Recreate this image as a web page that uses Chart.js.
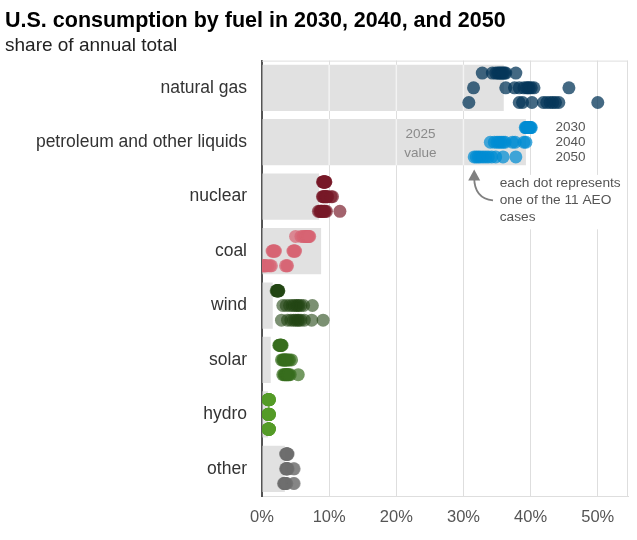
<!DOCTYPE html>
<html>
<head>
<meta charset="utf-8">
<script src="https://cdn.jsdelivr.net/npm/chart.js@4.4.1/dist/chart.umd.min.js"></script>
<style>
  html, body { margin: 0; padding: 0; background: #fff; }
</style>
</head>
<body>
<canvas id="chart" width="637" height="540"></canvas>
<script>
// categories and 2025 bars
const categories = ['natural gas', 'petroleum and other liquids', 'nuclear', 'coal', 'wind', 'solar', 'hydro', 'other'];
const value2025 = [36.0, 39.3, 8.5, 8.8, 1.6, 1.3, 0.9, 3.4];

// one row per year (2030, 2040, 2050), 11 AEO cases each
const years = ['2030', '2040', '2050'];
const naturalGas = [
  [32.8, 34.3, 34.8, 35.1, 35.3, 35.5, 35.7, 35.9, 36.1, 36.3, 37.8],
  [31.5, 36.3, 37.6, 38.3, 39.0, 39.4, 39.6, 39.8, 40.1, 40.5, 45.7],
  [30.8, 38.3, 38.8, 40.2, 41.9, 42.4, 42.9, 43.3, 43.7, 44.2, 50.0]
];
const petroleum = [
  [39.2, 39.3, 39.4, 39.5, 39.5, 39.6, 39.7, 39.8, 39.9, 40.0, 40.1],
  [34.0, 34.6, 35.0, 35.3, 35.6, 35.9, 36.2, 37.3, 37.7, 39.0, 39.3],
  [31.6, 31.9, 32.2, 32.5, 32.9, 33.3, 33.7, 34.2, 34.8, 35.9, 37.8]
];
const nuclear = [
  [9.0, 9.1, 9.1, 9.2, 9.2, 9.3, 9.3, 9.4, 9.4, 9.5, 9.5],
  [9.0, 9.1, 9.2, 9.3, 9.4, 9.5, 9.6, 9.7, 9.8, 10.3, 10.5],
  [8.4, 8.6, 8.7, 8.8, 8.9, 9.0, 9.2, 9.3, 9.4, 9.6, 11.6]
];
const coal = [
  [5.0, 5.8, 6.1, 6.3, 6.5, 6.6, 6.7, 6.8, 6.9, 7.0, 7.1],
  [1.5, 1.6, 1.7, 1.8, 1.9, 2.0, 4.6, 4.7, 4.8, 4.9, 5.0],
  [0.2, 0.3, 0.4, 0.5, 0.6, 0.9, 1.2, 1.4, 3.5, 3.7, 3.8]
];
const wind = [
  [2.1, 2.2, 2.2, 2.3, 2.3, 2.3, 2.4, 2.4, 2.4, 2.5, 2.5],
  [3.1, 3.6, 4.1, 4.5, 4.8, 5.1, 5.3, 5.5, 5.8, 6.2, 7.5],
  [2.9, 3.8, 4.3, 4.7, 5.0, 5.3, 5.5, 5.8, 6.3, 7.4, 9.1]
];
const solar = [
  [2.5, 2.6, 2.6, 2.7, 2.7, 2.8, 2.8, 2.8, 2.9, 2.9, 3.0],
  [2.9, 3.1, 3.2, 3.3, 3.4, 3.5, 3.6, 3.7, 3.9, 4.1, 4.4],
  [3.1, 3.3, 3.4, 3.5, 3.6, 3.7, 3.8, 3.9, 4.0, 4.2, 5.4]
];
const hydro = [
  [0.9, 0.9, 1.0, 1.0, 1.0, 1.0, 1.0, 1.0, 1.1, 1.1, 1.1],
  [0.9, 0.9, 1.0, 1.0, 1.0, 1.0, 1.0, 1.0, 1.1, 1.1, 1.1],
  [0.9, 0.9, 1.0, 1.0, 1.0, 1.0, 1.0, 1.0, 1.1, 1.1, 1.1]
];
const other = [
  [3.5, 3.6, 3.6, 3.7, 3.7, 3.7, 3.7, 3.8, 3.8, 3.8, 3.9],
  [3.5, 3.6, 3.6, 3.7, 3.7, 3.7, 3.8, 3.8, 3.9, 4.7, 4.8],
  [3.2, 3.3, 3.3, 3.4, 3.4, 3.5, 3.5, 3.6, 3.7, 4.7, 4.8]
];
const xTicks = [0, 10, 20, 30, 40, 50];

const cases = [naturalGas, petroleum, nuclear, coal, wind, solar, hydro, other];
const dotColors = [
  'rgba(5, 55, 90, 0.75)',
  'rgba(0, 140, 210, 0.72)',
  'rgba(120, 25, 40, 0.68)',
  'rgba(215, 100, 115, 0.72)',
  'rgba(35, 70, 20, 0.6)',
  'rgba(55, 110, 30, 0.7)',
  'rgba(85, 155, 40, 0.85)',
  'rgba(110, 110, 110, 0.6)'
];
const rowOffset = [-0.27, 0, 0.27];

Chart.defaults.font.family = "'Liberation Sans', Arial, sans-serif";

const dotSets = cases.map((rows, c) => ({
  type: 'scatter',
  label: categories[c],
  indexAxis: 'x',
  data: rows.flatMap((row, j) => row.map(v => ({ x: v, y: c + rowOffset[j] }))),
  backgroundColor: dotColors[c],
  borderWidth: 0,
  pointRadius: 6.5,
  pointHoverRadius: 6.5,
  xAxisID: 'x',
  yAxisID: 'y2',
  order: 0
}));

// lighter grid lines across the grey bars
const gridOverBars = {
  id: 'gridOverBars',
  afterDatasetDraw(chart, args) {
    if (args.index !== 0) return;
    const { ctx, scales: { x } } = chart;
    ctx.save();
    ctx.strokeStyle = 'rgba(255,255,255,0.6)';
    ctx.lineWidth = 1.5;
    args.meta.data.forEach(bar => {
      const p = bar.getProps(['x', 'y', 'height'], true);
      const top = p.y - p.height / 2, bottom = p.y + p.height / 2;
      xTicks.forEach(t => {
        const px = x.getPixelForValue(t);
        if (t > 0 && px < p.x) {
          ctx.beginPath(); ctx.moveTo(px, top); ctx.lineTo(px, bottom); ctx.stroke();
        }
      });
    });
    ctx.restore();
  }
};

// top and right frame
const frame = {
  id: 'frame',
  beforeDatasetsDraw(chart) {
    const { ctx, chartArea: a } = chart;
    ctx.save();
    ctx.strokeStyle = '#dedede';
    ctx.lineWidth = 1;
    ctx.beginPath();
    ctx.moveTo(a.left, a.top + 0.5); ctx.lineTo(a.right, a.top + 0.5);
    ctx.moveTo(a.right - 0.5, a.top); ctx.lineTo(a.right - 0.5, a.bottom);
    ctx.stroke();
    ctx.restore();
  }
};

// the key notes: 2025 value, year rows, dot explanation
const notes = {
  id: 'notes',
  afterDatasetsDraw(chart) {
    const { ctx, scales: { x, y2 } } = chart;
    ctx.save();
    ctx.textBaseline = 'middle';

    ctx.fillStyle = '#fff';
    const bx = x.getPixelForValue(35.0), by = y2.getPixelForValue(1.6);
    ctx.fillRect(bx, by, x.getPixelForValue(54.0) - bx, y2.getPixelForValue(2.6) - by);

    ctx.font = "13.5px 'Liberation Sans', Arial, sans-serif";
    ctx.fillStyle = '#8a8a8a';
    ctx.textAlign = 'center';
    ctx.fillText('2025', x.getPixelForValue(23.6), y2.getPixelForValue(0.85));
    ctx.fillText('value', x.getPixelForValue(23.6), y2.getPixelForValue(1.2));

    ctx.fillStyle = '#555';
    ctx.textAlign = 'left';
    years.forEach((yr, j) => {
      ctx.fillText(yr, x.getPixelForValue(43.7), y2.getPixelForValue(1 + rowOffset[j]));
    });

    ctx.font = "13.7px 'Liberation Sans', Arial, sans-serif";
    ['each dot represents', 'one of the 11 AEO', 'cases'].forEach((t, i) => {
      ctx.fillText(t, x.getPixelForValue(35.4), y2.getPixelForValue(1.76 + i * 0.31));
    });

    // arrow
    const tipX = x.getPixelForValue(31.6), tipY = y2.getPixelForValue(1.5);
    ctx.strokeStyle = '#808080';
    ctx.fillStyle = '#808080';
    ctx.lineWidth = 1.8;
    ctx.beginPath();
    ctx.moveTo(x.getPixelForValue(34.4), y2.getPixelForValue(2.07));
    ctx.quadraticCurveTo(x.getPixelForValue(31.6), y2.getPixelForValue(2.03), tipX, tipY + 8);
    ctx.stroke();
    ctx.beginPath();
    ctx.moveTo(tipX, tipY);
    ctx.lineTo(tipX - 6, tipY + 11);
    ctx.lineTo(tipX + 6, tipY + 11);
    ctx.closePath();
    ctx.fill();
    ctx.restore();
  }
};

new Chart(document.getElementById('chart'), {
  type: 'bar',
  data: {
    labels: categories,
    datasets: [{
      type: 'bar',
      label: '2025 value',
      data: value2025,
      backgroundColor: '#e1e1e1',
      grouped: false,
      barPercentage: 0.85,
      categoryPercentage: 1,
      xAxisID: 'x',
      yAxisID: 'y',
      order: 10
    }].concat(dotSets)
  },
  options: {
    indexAxis: 'y',
    responsive: false,
    animation: false,
    layout: { padding: { left: 5, right: 9, top: 0, bottom: 0 } },
    plugins: {
      legend: { display: false },
      tooltip: { enabled: false },
      title: {
        display: true,
        text: 'U.S. consumption by fuel in 2030, 2040, and 2050',
        align: 'start',
        color: '#000',
        font: { size: 21.5, weight: 'bold' },
        padding: { top: 8, bottom: 0 }
      },
      subtitle: {
        display: true,
        text: 'share of annual total',
        align: 'start',
        color: '#222',
        font: { size: 19 },
        padding: { top: 1, bottom: 3 }
      }
    },
    scales: {
      x: {
        type: 'linear',
        position: 'bottom',
        min: 0,
        max: 54.5,
        offset: false,
        afterBuildTicks: s => { s.ticks = xTicks.map(v => ({ value: v })); },
        afterFit: s => { s.height = 44; },
        grid: {
          drawTicks: false,
          color: c => (c.tick && c.tick.value === 0) ? 'rgba(0,0,0,0)' : '#dedede'
        },
        border: { color: '#dedede', width: 1 },
        ticks: {
          padding: 12,
          color: '#555',
          font: { size: 16.5 },
          callback: v => v + '%'
        }
      },
      y: {
        type: 'category',
        position: 'left',
        afterFit: s => { s.width = 257; },
        grid: { display: false, drawTicks: false },
        border: { display: true, color: '#555', width: 2 },
        ticks: { padding: 15, color: '#333', font: { size: 17.5 } }
      },
      y2: {
        type: 'linear',
        display: false,
        offset: false,
        grid: { offset: false },
        min: -0.5,
        max: 7.5,
        reverse: true
      }
    }
  },
  plugins: [gridOverBars, frame, notes]
});
</script>
</body>
</html>
